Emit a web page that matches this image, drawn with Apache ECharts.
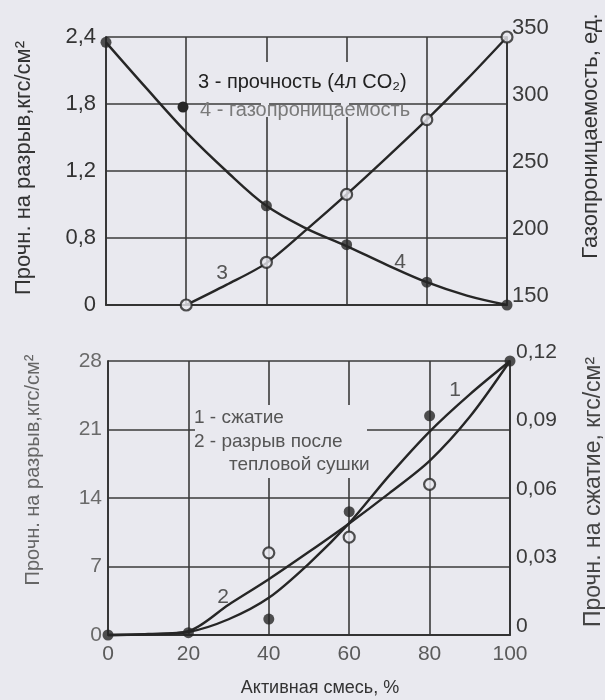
<!DOCTYPE html>
<html>
<head>
<meta charset="utf-8">
<script src="https://cdn.jsdelivr.net/npm/echarts@6/dist/echarts.min.js"></script>
<style>
  html, body { margin: 0; padding: 0; background: #e9e9ef; }
  #chart { width: 605px; height: 700px; }
</style>
</head>
<body>
<div id="chart"></div>
<script>
// ---------- data ----------
// Top panel
const mixPct = [0, 10, 20, 30, 40, 50, 60, 70, 80, 90, 100];
const topStrengthTicks = [0, 0.8, 1.2, 1.8, 2.4];           // left-axis labels (as printed)
const gasTicks = [150, 200, 250, 300, 350];
const gasCurve = [346, 312, 279, 250, 224, 207, 194, 180, 167, 157, 150];   // curve 4
const gasPointsX = [0, 40, 60, 80, 100];
const gasPoints = [346, 224, 195, 167, 150];
const strengthCurveX = [20, 30, 40, 50, 60, 70, 80, 90, 100];               // curve 3
const strengthCurve = [0, 0.24, 0.50, 0.85, 1.06, 1.32, 1.66, 2.02, 2.4];
const strengthPointsX = [20, 40, 60, 80, 100];
const strengthPoints = [0, 0.51, 1.06, 1.66, 2.4];

// Bottom panel
const compCurve = [0, 0.0003, 0.0013, 0.0069, 0.0163, 0.0313, 0.049, 0.0699, 0.0891, 0.1054, 0.12]; // curve 1
const tensileCurve = [0, 0.1, 0.4, 3.1, 5.7, 8.5, 11.4, 14.5, 17.8, 22.3, 28];                        // curve 2
const compPointsX = [0, 20, 40, 60, 80, 100];
const compPoints = [0, 0.001, 0.007, 0.054, 0.096, 0.12];
const tensilePointsX = [40, 60, 80];
const tensilePoints = [8.4, 10.0, 15.4];

// ---------- helpers ----------
// left axis of the top panel has evenly spaced, unevenly valued labels
function toPos(v) {
  const t = topStrengthTicks;
  for (let i = 0; i < t.length - 1; i++) {
    if (v <= t[i + 1]) return i + (v - t[i]) / (t[i + 1] - t[i]);
  }
  return t.length - 1;
}
const comma = s => String(s).replace('.', ',');
const pairs = (xs, ys, f) => xs.map((x, i) => [x, f ? f(ys[i]) : ys[i]]);

const BG = '#e9e9ef';
const INK = '#262626';
const FONT = '"Liberation Sans", Arial, sans-serif';

const chart = echarts.init(document.getElementById('chart'), null, { renderer: 'canvas' });

const gridLine = { show: true, lineStyle: { color: '#3a3a3a', width: 1.6 } };
const axLine = { show: true, lineStyle: { color: '#333', width: 1.8 } };

const option = {
  backgroundColor: BG,
  animation: false,
  grid: [
    { left: 106, top: 37, width: 401, height: 268 },
    { left: 108, top: 361, width: 402, height: 274 }
  ],
  xAxis: [
    { gridIndex: 0, type: 'value', min: 0, max: 100, interval: 20,
      axisLine: axLine, axisTick: { show: false }, axisLabel: { show: false }, splitLine: gridLine },
    { gridIndex: 1, type: 'value', min: 0, max: 100, interval: 20,
      axisLine: axLine, axisTick: { show: false }, splitLine: gridLine,
      axisLabel: { color: '#5a5a5a', fontSize: 21, fontFamily: FONT, margin: 9 } }
  ],
  yAxis: [
    { gridIndex: 0, type: 'value', min: 0, max: topStrengthTicks.length - 1, interval: 1,
      axisLine: axLine, axisTick: { show: false }, splitLine: gridLine,
      axisLabel: { color: '#333', fontSize: 22, fontFamily: FONT, margin: 10,
        formatter: v => comma(topStrengthTicks[Math.round(v)]) } },
    { gridIndex: 0, type: 'value', position: 'right', min: gasTicks[0], max: gasTicks[gasTicks.length - 1], interval: 50,
      axisLine: axLine, axisTick: { show: false }, splitLine: { show: false },
      axisLabel: { color: '#3a3a3a', fontSize: 22, fontFamily: FONT, margin: 5, verticalAlign: 'bottom', lineHeight: 18 } },
    { gridIndex: 1, type: 'value', min: 0, max: 28, interval: 7,
      axisLine: axLine, axisTick: { show: false }, splitLine: gridLine,
      axisLabel: { color: '#6a6a6a', fontSize: 21, fontFamily: FONT, margin: 6 } },
    { gridIndex: 1, type: 'value', position: 'right', min: 0, max: 0.12, interval: 0.03,
      axisLine: axLine, axisTick: { show: false }, splitLine: { show: false },
      axisLabel: { color: '#3a3a3a', fontSize: 21, fontFamily: FONT, margin: 6, verticalAlign: 'bottom', lineHeight: 18,
        formatter: v => v === 0 ? '0' : comma(v.toFixed(2)) } }
  ],
  series: [
    // top: curve 4 (gas permeability)
    { type: 'line', xAxisIndex: 0, yAxisIndex: 1, data: pairs(mixPct, gasCurve), smooth: 0.35,
      showSymbol: false, lineStyle: { color: INK, width: 2.4 }, z: 3, clip: false },
    { type: 'scatter', xAxisIndex: 0, yAxisIndex: 1, data: pairs(gasPointsX, gasPoints),
      symbolSize: 11, itemStyle: { color: INK }, z: 4, clip: false },
    // top: curve 3 (strength)
    { type: 'line', xAxisIndex: 0, yAxisIndex: 0, data: pairs(strengthCurveX, strengthCurve, toPos), smooth: 0.3,
      showSymbol: false, lineStyle: { color: INK, width: 2.4 }, z: 3, clip: false },
    { type: 'scatter', xAxisIndex: 0, yAxisIndex: 0, data: pairs(strengthPointsX, strengthPoints, toPos),
      symbolSize: 11, itemStyle: { color: BG, borderColor: INK, borderWidth: 2.2 }, z: 4, clip: false },
    // bottom: curve 1 (compression)
    { type: 'line', xAxisIndex: 1, yAxisIndex: 3, data: pairs(mixPct, compCurve), smooth: 0.3,
      showSymbol: false, lineStyle: { color: INK, width: 2.4 }, z: 3, clip: false },
    { type: 'scatter', xAxisIndex: 1, yAxisIndex: 3, data: pairs(compPointsX, compPoints),
      symbolSize: 11, itemStyle: { color: INK }, z: 4, clip: false },
    // bottom: curve 2 (tensile after heat drying)
    { type: 'line', xAxisIndex: 1, yAxisIndex: 2, data: pairs(mixPct, tensileCurve), smooth: 0.3,
      showSymbol: false, lineStyle: { color: INK, width: 2.4 }, z: 3, clip: false },
    { type: 'scatter', xAxisIndex: 1, yAxisIndex: 2, data: pairs(tensilePointsX, tensilePoints),
      symbolSize: 11, itemStyle: { color: BG, borderColor: INK, borderWidth: 2.2 }, z: 4, clip: false }
  ],
  graphic: [
    // gaps in grid behind the legend texts
    { type: 'rect', z: 1, shape: { x: 194, y: 62, width: 224, height: 36 }, style: { fill: BG } },
    { type: 'rect', z: 1, shape: { x: 261, y: 96, width: 8, height: 21 }, style: { fill: BG } },
    { type: 'rect', z: 1, shape: { x: 341, y: 96, width: 8, height: 21 }, style: { fill: BG } },
    { type: 'rect', z: 1, shape: { x: 195, y: 405, width: 172, height: 73 }, style: { fill: BG } },
    // top legend
    { type: 'text', z: 5, x: 198, y: 82, style: { text: '3 - прочность (4л CO₂)', font: '20px ' + FONT, fill: '#222', verticalAlign: 'middle' } },
    { type: 'circle', z: 5, shape: { cx: 183, cy: 107, r: 5.5 }, style: { fill: INK } },
    { type: 'text', z: 5, x: 200, y: 110, style: { text: '4 - газопроницаемость', font: '20px ' + FONT, fill: '#7a7a7a', verticalAlign: 'middle' } },
    // bottom legend
    { type: 'text', z: 5, x: 194, y: 418, style: { text: '1 - сжатие', font: '19px ' + FONT, fill: '#555', verticalAlign: 'middle' } },
    { type: 'text', z: 5, x: 194, y: 442, style: { text: '2 - разрыв после', font: '19px ' + FONT, fill: '#555', verticalAlign: 'middle' } },
    { type: 'text', z: 5, x: 229, y: 465, style: { text: 'тепловой сушки', font: '19px ' + FONT, fill: '#555', verticalAlign: 'middle' } },
    // curve numbers
    { type: 'text', z: 5, x: 222, y: 273, style: { text: '3', font: '21px ' + FONT, fill: '#555', align: 'center', verticalAlign: 'middle' } },
    { type: 'text', z: 5, x: 400, y: 262, style: { text: '4', font: '21px ' + FONT, fill: '#555', align: 'center', verticalAlign: 'middle' } },
    { type: 'text', z: 5, x: 455, y: 390, style: { text: '1', font: '21px ' + FONT, fill: '#555', align: 'center', verticalAlign: 'middle' } },
    { type: 'text', z: 5, x: 223, y: 597, style: { text: '2', font: '21px ' + FONT, fill: '#555', align: 'center', verticalAlign: 'middle' } },
    // axis titles
    { type: 'text', z: 5, x: 24, y: 168, rotation: Math.PI / 2, style: { text: 'Прочн. на разрыв,кгс/см²', font: '22px ' + FONT, fill: '#333', align: 'center', verticalAlign: 'middle' } },
    { type: 'text', z: 5, x: 591, y: 136, rotation: Math.PI / 2, style: { text: 'Газопроницаемость, ед.', font: '22px ' + FONT, fill: '#333', align: 'center', verticalAlign: 'middle' } },
    { type: 'text', z: 5, x: 33, y: 470, rotation: Math.PI / 2, style: { text: 'Прочн. на разрыв,кгс/см²', font: '20px ' + FONT, fill: '#666', align: 'center', verticalAlign: 'middle' } },
    { type: 'text', z: 5, x: 594, y: 492, rotation: Math.PI / 2, style: { text: 'Прочн. на сжатие, кгс/см²', font: '23px ' + FONT, fill: '#444', align: 'center', verticalAlign: 'middle' } },
    { type: 'text', z: 5, x: 320, y: 688, style: { text: 'Активная смесь, %', font: '18px ' + FONT, fill: '#333', align: 'center', verticalAlign: 'middle' } }
  ]
};
chart.setOption(option);
</script>
</body>
</html>
